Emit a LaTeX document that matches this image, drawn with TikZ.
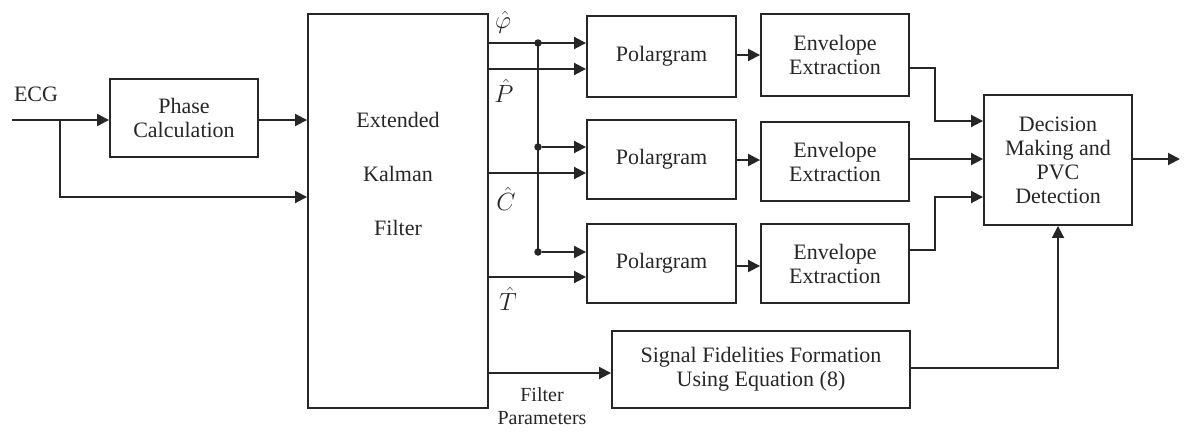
\documentclass[tikz,border=0pt]{standalone}
\usepackage{fontspec}
\setmainfont{Liberation Serif}
\usetikzlibrary{arrows.meta,calc}
\begin{document}
\begin{tikzpicture}[x=1pt,y=-1pt,
  every node/.style={font=\fontsize{22}{24}\selectfont, text=black!85},
  blk/.style={draw=black!85, line width=1.9pt, inner sep=0pt, align=center},
  conn/.style={draw=black!85, line width=1.9pt},
  arr/.style={conn, -{Triangle[length=12pt,width=12pt]}},
  dot/.style={circle, fill=black!85, inner sep=0pt, minimum size=7.5pt},
  mlbl/.style={font=\fontsize{25}{26}\selectfont}]
\useasboundingbox (0,0) rectangle (1186,434);
% blocks
\node[blk, minimum width=148pt, minimum height=78pt] (phase) at (184,118) {Phase\\Calculation};
\node[blk, minimum width=180pt, minimum height=394pt] (ekf) at (398,211) {};
\node[align=center, font=\fontsize{22}{54}\selectfont] (ekftxt) at (398,174) {Extended\\Kalman\\Filter};
\node[blk, minimum width=149pt, minimum height=81pt] (pol1) at (661.5,56.5) {Polargram};
\node[blk, minimum width=149pt, minimum height=79pt] (pol2) at (661.5,159.5) {Polargram};
\node[blk, minimum width=149pt, minimum height=79pt] (pol3) at (661.5,263.5) {Polargram};
\node[blk, minimum width=148pt, minimum height=82pt] (env1) at (835,55) {Envelope\\Extraction};
\node[blk, minimum width=148pt, minimum height=79pt] (env2) at (835,161.5) {Envelope\\Extraction};
\node[blk, minimum width=148pt, minimum height=79pt] (env3) at (835,263.5) {Envelope\\Extraction};
\node[blk, minimum width=148pt, minimum height=130pt] (dec) at (1058,160) {Decision\\Making and\\PVC\\Detection};
\node[blk, minimum width=298pt, minimum height=77pt] (sig) at (761,369.5) {Signal Fidelities Formation\\Using Equation (8)};
% labels
\node (ecglbl) at (36,94) {ECG};
\node[mlbl] (lphi) at (503,22) {$\hat{\varphi}$};
\node[mlbl] (lp) at (504,91) {$\hat{P}$};
\node[mlbl] (lc) at (506,199) {$\hat{C}$};
\node[mlbl] (lt) at (508,299) {$\hat{T}$};
\node[align=center, font=\fontsize{20}{23}\selectfont] (fplbl) at (542,406) {Filter\\Parameters};
% coordinates
\coordinate (ecgin) at (12,120);
\coordinate (br) at (60,120);
\coordinate (out) at (1180,159);
\coordinate (b1) at (538,43);
\coordinate (b2) at (538,147);
\coordinate (b3) at (538,252);
% ECG input
\draw[arr] (ecgin) -- (phase.west |- ecgin);
\draw[arr] (br) |- ($(ekf.west)+(0,-14)$);
\draw[arr] (phase.east |- ecgin) -- (ekf.west |- ecgin);
% EKF outputs
\draw[arr] (ekf.east |- b1) -- (pol1.west |- b1);
\draw[arr] (ekf.east |- 0,69) -- (pol1.west |- 0,69);
\draw[conn] (b1) -- (b3);
\node[dot] (d1) at (b1) {};
\node[dot] (d2) at (b2) {};
\node[dot] (d3) at (b3) {};
\draw[arr] (d2) -- (pol2.west |- b2);
\draw[arr] (ekf.east |- 0,173) -- (pol2.west |- 0,173);
\draw[arr] (d3) -- (pol3.west |- b3);
\draw[arr] (ekf.east |- 0,277) -- (pol3.west |- 0,277);
% polargram to envelope
\draw[arr] (pol1.east |- 0,55) -- (env1.west |- 0,55);
\draw[arr] (pol2.east |- 0,160) -- (env2.west |- 0,160);
\draw[arr] (pol3.east |- 0,266) -- (env3.west |- 0,266);
% envelope to decision
\draw[arr] (env1.east |- 0,68) -- (935,68) |- (dec.west |- 0,121);
\draw[arr] (env2.east |- 0,159) -- (dec.west |- 0,159);
\draw[arr] (env3.east |- 0,250) -- (935,250) |- (dec.west |- 0,197);
\draw[arr] (dec.east |- out) -- (out);
% filter parameters
\draw[arr] (ekf.east |- 0,373) -- (sig.west |- 0,373);
\draw[arr] (sig.east |- 0,368) -| (dec.south);
\end{tikzpicture}
\end{document}
